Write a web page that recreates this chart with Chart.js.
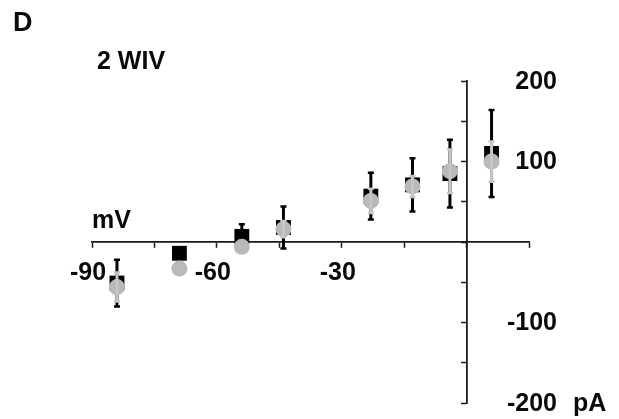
<!DOCTYPE html>
<html>
<head>
<meta charset="utf-8">
<script src="https://cdn.jsdelivr.net/npm/chart.js@4/dist/chart.umd.min.js"></script>
<style>
  body { margin: 0; background: #fff; }
</style>
</head>
<body>
<canvas id="myChart" width="619" height="419"></canvas>
<script>
// I-V data, holding potential (mV) vs current (pA)
const voltage = [-84, -69, -54, -44, -23, -13, -4, 6];
const currentBlack = [-51, -14, 7, 18, 57, 71, 85, 110];
const errorBlack = [29, 0, 15, 26, 29, 33, 42, 54];
const currentGrey = [-56, -33, -6, 16, 51, 69, 88, 100];
const errorGrey = [18, 0, 0, 10, 15, 13, 27, 25];

const xTickLabels = [-90, -60, -30];
const yTickLabels = [200, 100, -100, -200];

const FONT = 'bold 25px "Liberation Sans", Arial, sans-serif';

function points(xs, ys) {
    return xs.map((x, i) => ({ x: x, y: ys[i] }));
}

// error bars for each dataset, drawn right after its markers
const errorBars = {
    id: 'errorBars',
    afterDatasetDraw(chart, args) {
        const ds = chart.data.datasets[args.index];
        const x = chart.scales.x, y = chart.scales.y;
        const ctx = chart.ctx;
        ctx.save();
        ctx.strokeStyle = ds.errColor;
        ds.err.forEach((e, i) => {
            if (!e) return;
            const px = x.getPixelForValue(ds.data[i].x);
            const top = y.getPixelForValue(ds.data[i].y + e);
            const bot = y.getPixelForValue(ds.data[i].y - e);
            ctx.lineWidth = 3;
            ctx.beginPath();
            ctx.moveTo(px, top);
            ctx.lineTo(px, bot);
            ctx.stroke();
            ctx.lineWidth = 2.5;
            ctx.beginPath();
            ctx.moveTo(px - 3, top);
            ctx.lineTo(px + 3, top);
            ctx.moveTo(px - 3, bot);
            ctx.lineTo(px + 3, bot);
            ctx.stroke();
        });
        ctx.restore();
    }
};

// tick labels and captions
const labels = {
    id: 'labels',
    afterDraw(chart) {
        const x = chart.scales.x, y = chart.scales.y;
        const ctx = chart.ctx;
        const y0 = y.getPixelForValue(0);
        ctx.save();
        ctx.fillStyle = '#0a0a0a';
        ctx.font = FONT;
        ctx.textBaseline = 'middle';

        ctx.textAlign = 'center';
        xTickLabels.forEach(v => {
            ctx.fillText(String(v), x.getPixelForValue(v) - 4, y0 + 31);
        });

        ctx.textAlign = 'right';
        const right = chart.chartArea.right + 28;
        yTickLabels.forEach(v => {
            ctx.fillText(String(v), right, y.getPixelForValue(v) + 1);
        });
        ctx.textAlign = 'left';
        ctx.fillText('pA', right + 16, y.getPixelForValue(-200) + 1);

        ctx.fillText('mV', chart.chartArea.left, y0 - 21);
        ctx.fillText('2 WIV', 97, 62);
        ctx.font = 'bold 27px "Liberation Sans", Arial, sans-serif';
        ctx.fillText('D', 13, 24);
        ctx.restore();
    }
};

const data = {
    datasets: [{
        data: points(voltage, currentGrey),
        err: errorGrey,
        errColor: '#c6c6c6',
        pointStyle: 'circle',
        pointRadius: 8,
        backgroundColor: '#b9b9b9',
        borderWidth: 0,
        showLine: false,
        order: 1
    }, {
        data: points(voltage, currentBlack),
        err: errorBlack,
        errColor: '#000',
        pointStyle: 'rect',
        pointRadius: 10.5,
        backgroundColor: '#000',
        borderWidth: 0,
        showLine: false,
        order: 2
    }]
};

const axisColor = '#1a1a1a';

const config = {
    type: 'scatter',
    data,
    options: {
        responsive: false,
        animation: false,
        layout: {
            padding: { left: 92, right: 90, top: 81, bottom: 16 }
        },
        plugins: {
            legend: { display: false },
            tooltip: { enabled: false }
        },
        scales: {
            x: {
                type: 'linear',
                min: -90,
                max: 15,
                position: { y: 0 },
                ticks: { display: false, stepSize: 15 },
                grid: {
                    drawOnChartArea: false,
                    tickLength: 5,
                    tickWidth: 1.5,
                    tickColor: axisColor
                },
                border: { color: axisColor, width: 1.8 }
            },
            y: {
                type: 'linear',
                min: -200,
                max: 200,
                position: { x: 0 },
                ticks: { display: false, stepSize: 50 },
                grid: {
                    drawOnChartArea: false,
                    tickLength: 5,
                    tickWidth: 1.5,
                    tickColor: axisColor
                },
                border: { color: axisColor, width: 1.8 }
            }
        }
    },
    plugins: [errorBars, labels]
};

new Chart(document.getElementById('myChart'), config);
</script>
</body>
</html>
